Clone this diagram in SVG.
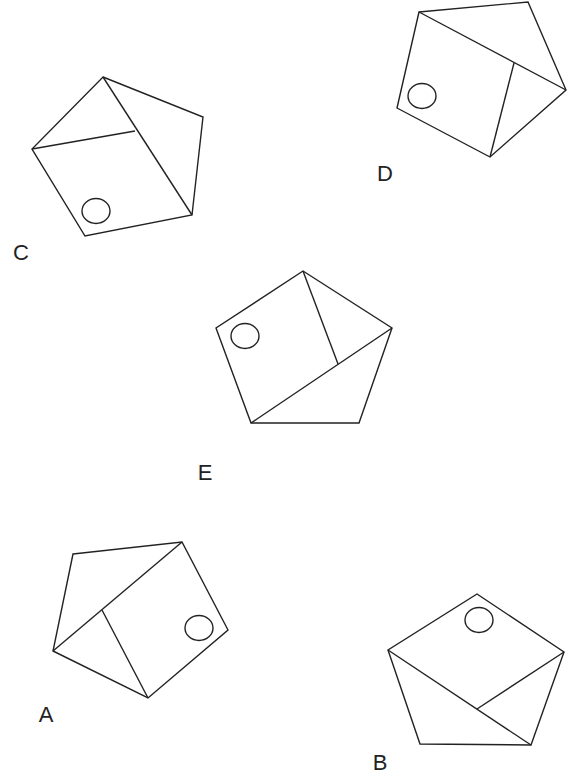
<svg xmlns="http://www.w3.org/2000/svg" width="567" height="778" viewBox="0 0 567 778">
<style>
.s{fill:none;stroke:#222;stroke-width:1.4;stroke-linejoin:miter}
.t{font-family:"Liberation Sans",Arial,sans-serif;font-size:22px;fill:#222;text-anchor:middle}
</style>
<rect width="567" height="778" fill="#fff"/>
<g id="C">
<polygon class="s" points="103,77 203,117 192,215 85,236 32,149"/>
<line class="s" x1="103" y1="77" x2="192" y2="215"/>
<line class="s" x1="32" y1="149" x2="135" y2="131"/>
<ellipse class="s" cx="96" cy="211" rx="14" ry="12.5"/>
<text class="t" x="21" y="260">C</text>
</g>
<g id="D">
<polygon class="s" points="419,12 528,2 566,90 490,157 397,108"/>
<line class="s" x1="419" y1="12" x2="566" y2="90"/>
<line class="s" x1="490" y1="157" x2="514" y2="63"/>
<ellipse class="s" cx="422" cy="96" rx="14" ry="12.5"/>
<text class="t" x="385" y="181">D</text>
</g>
<g id="E">
<polygon class="s" points="303,271 392,328 359,423 251,423 216,328"/>
<line class="s" x1="251" y1="423" x2="392" y2="328"/>
<line class="s" x1="303" y1="271" x2="338" y2="364"/>
<ellipse class="s" cx="245" cy="336" rx="14" ry="12.5"/>
<text class="t" x="205" y="480">E</text>
</g>
<g id="A">
<polygon class="s" points="73,554 182,542 228,630 148,698 53,651"/>
<line class="s" x1="53" y1="651" x2="182" y2="542"/>
<line class="s" x1="148" y1="698" x2="102" y2="610"/>
<ellipse class="s" cx="199" cy="628" rx="14" ry="12.5"/>
<text class="t" x="46" y="722">A</text>
</g>
<g id="B">
<polygon class="s" points="477,594 564,652 531,745 420,744 388,650"/>
<line class="s" x1="388" y1="650" x2="531" y2="745"/>
<line class="s" x1="564" y1="652" x2="477" y2="709"/>
<ellipse class="s" cx="479" cy="620" rx="14" ry="12.5"/>
<text class="t" x="380" y="770">B</text>
</g>
<g id="connectors"/>
</svg>
